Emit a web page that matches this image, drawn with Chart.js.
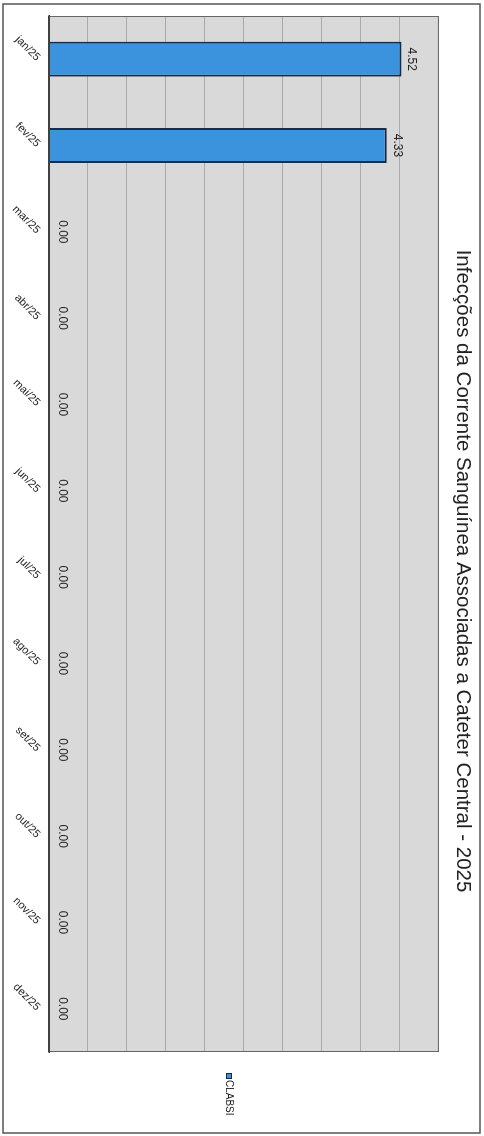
<!DOCTYPE html>
<html>
<head>
<meta charset="utf-8">
<script src="https://cdn.jsdelivr.net/npm/chart.js@4/dist/chart.umd.min.js"></script>
<style>
  html, body { margin: 0; padding: 0; background: #fff; overflow: hidden; width: 484px; height: 1136px; }
  #wrap { position: absolute; left: 0; top: 0; width: 1136px; height: 484px;
          transform-origin: 0 0; transform: translateX(484px) rotate(90deg); }
</style>
</head>
<body>
<div id="wrap"><canvas id="c" width="1136" height="484"></canvas></div>
<script>
const categories = ['jan/25','fev/25','mar/25','abr/25','mai/25','jun/25','jul/25','ago/25','set/25','out/25','nov/25','dez/25'];
const clabsiValues = [4.52, 4.33, 0, 0, 0, 0, 0, 0, 0, 0, 0, 0];
const seriesName = 'CLABSI';
const titleText = 'Infecções da Corrente Sanguínea Associadas a Cateter Central - 2025';
const valueMin = 0, valueMax = 5, valueStep = 0.5;

const FONT = "'Liberation Sans', Arial, sans-serif";
const BAR_FILL = '#3c93dd';
const BAR_EDGE = '#1b2a44';

const decorPlugin = {
  id: 'decor',
  beforeDraw(chart) {
    const { ctx, chartArea: a } = chart;
    ctx.save();
    ctx.fillStyle = '#d9d9d9';
    ctx.fillRect(a.left, a.top, a.right - a.left, a.bottom - a.top);
    ctx.strokeStyle = '#555';
    ctx.lineWidth = 1.5;
    ctx.strokeRect(4, 4, 1129, 477);
    ctx.restore();
  },
  afterDatasetsDraw(chart) {
    const { ctx, chartArea: a } = chart;
    const meta = chart.getDatasetMeta(0);
    const vals = chart.data.datasets[0].data;
    ctx.save();
    // plot border
    ctx.strokeStyle = '#666';
    ctx.lineWidth = 1;
    ctx.strokeRect(a.left + 0.5, a.top + 0.5, a.right - a.left - 1, a.bottom - a.top - 1);
    ctx.strokeStyle = '#333';
    ctx.lineWidth = 1.5;
    ctx.beginPath(); ctx.moveTo(a.left, a.bottom); ctx.lineTo(a.right, a.bottom); ctx.stroke();
    // data labels
    ctx.fillStyle = '#222';
    ctx.font = '12px ' + FONT;
    ctx.textAlign = 'center';
    ctx.textBaseline = 'alphabetic';
    meta.data.forEach((bar, i) => {
      const off = vals[i] === 0 ? 10 : 7;
      ctx.fillText(Number(vals[i]).toFixed(2), bar.x, Math.min(bar.y, a.bottom) - off);
    });
    // legend
    const lx = 1073, ly = 255;
    ctx.fillStyle = BAR_FILL;
    ctx.fillRect(lx, ly - 3, 5, 5);
    ctx.strokeStyle = BAR_EDGE;
    ctx.lineWidth = 1;
    ctx.strokeRect(lx + 0.5, ly - 2.5, 5, 5);
    ctx.fillStyle = '#222';
    ctx.font = '10px ' + FONT;
    ctx.textAlign = 'left';
    ctx.textBaseline = 'middle';
    ctx.fillText(seriesName, lx + 7, ly);
    ctx.restore();
  }
};

new Chart(document.getElementById('c'), {
  type: 'bar',
  data: {
    labels: categories,
    datasets: [{
      label: seriesName,
      data: clabsiValues,
      backgroundColor: BAR_FILL,
      borderColor: BAR_EDGE,
      borderWidth: 2,
      categoryPercentage: 1,
      barPercentage: 0.405
    }]
  },
  options: {
    responsive: false,
    animation: false,
    devicePixelRatio: 1,
    layout: { padding: { left: 16, right: 10, top: 0, bottom: 0 } },
    plugins: {
      legend: { display: false },
      tooltip: { enabled: false },
      title: {
        display: true,
        text: titleText,
        color: '#222',
        font: { family: FONT, size: 20.5, weight: 'normal' },
        padding: { top: 9, bottom: 11.5 }
      }
    },
    scales: {
      x: {
        grid: { display: false, drawTicks: false },
        border: { display: true, color: '#333', width: 1.5 },
        ticks: {
          color: '#222',
          font: { family: FONT, size: 11 },
          minRotation: 45, maxRotation: 45,
          autoSkip: false,
          padding: 6
        },
        afterFit(scale) { scale.height = 49; }
      },
      y: {
        min: valueMin, max: valueMax,
        ticks: { display: false, stepSize: valueStep },
        grid: { color: '#ababab', lineWidth: 1, drawTicks: false },
        border: { display: false },
        afterFit(scale) { scale.width = 0; }
      },
      legendSpace: {
        position: 'right',
        display: true,
        min: valueMin, max: valueMax,
        ticks: { display: false },
        grid: { display: false, drawTicks: false },
        border: { display: false },
        afterFit(scale) { scale.width = 74; }
      }
    }
  },
  plugins: [decorPlugin]
});
</script>
</body>
</html>
